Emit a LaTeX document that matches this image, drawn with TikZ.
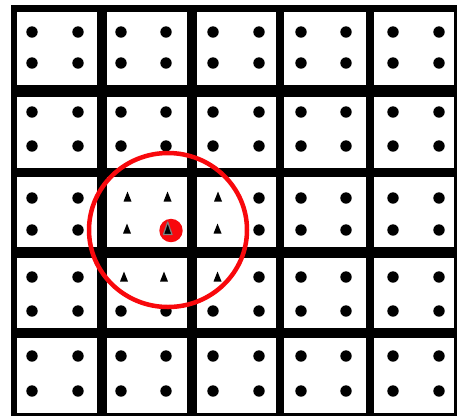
\documentclass[tikz,border=0pt]{standalone}
\definecolor{ringred}{RGB}{248,8,12}
\tikzset{
  cellbox/.style={fill=white},
  dotmark/.style={fill=black},
  trimark/.style={fill=black},
  ring/.style={draw=ringred,line width=4.5pt},
  hitdot/.style={fill=ringred},
  hittri/.style={fill=black,draw=gray,line width=1.2pt,line join=round}
}
\begin{document}
\begin{tikzpicture}[x=1pt,y=-1pt]
\useasboundingbox (0,0) rectangle (457,416);
\fill[white] (0,0) rectangle (457,416);
\fill[black] (11,5) rectangle (457,416);
\foreach \xa/\xb/\da/\db [count=\i] in {17/97/32/78, 107/187/121/166, 197/276/213/259, 284/366/301/346, 374/454/393/439} {
  \foreach \ya/\yb/\ea/\eb [count=\j] in {12/85/32/63, 97/168/112/146, 177/247/198/230, 258/328/277/311, 338/413/356/391} {
    \fill[cellbox] (\xa,\ya) rectangle (\xb,\yb);
    \foreach \px/\py/\a/\b in {\da/\ea/1/1, \db/\ea/2/1, \da/\eb/1/2, \db/\eb/2/2} {
      \pgfmathtruncatemacro\tri{((\i==2)&&(\j==3)) || ((\i==3)&&(\j==3)&&(\a==1)) || ((\i==2)&&(\j==4)&&(\b==1)) || ((\i==3)&&(\j==4)&&(\a==1)&&(\b==1)) ? 1 : 0}
      \ifnum\tri=0
        \fill[dotmark] (\px,\py) circle (5.7);
      \fi
    }
  }
}
\foreach \px/\py in {127.5/197, 167.5/197, 127/229, 218/197, 217.5/229, 124/277, 164/277, 217.5/277} {
  \fill[trimark] (\px,\py) ++(0,-5.5) -- ++(4,10) -- ++(-8,0) -- cycle;
}
\draw[ring] (168,230) ellipse [x radius=79, y radius=77];
\fill[hitdot] (171,230.5) circle (11.7);
\filldraw[hittri] (167.7,222) -- (172,234.5) -- (163.4,234.5) -- cycle;
\end{tikzpicture}
\end{document}
